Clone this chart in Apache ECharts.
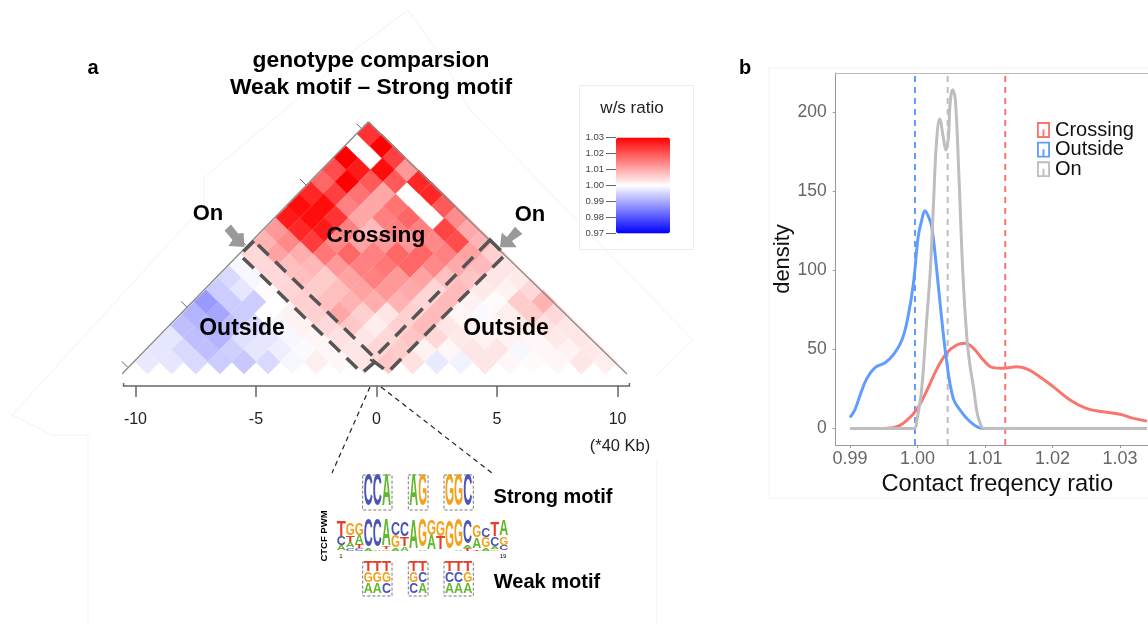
<!DOCTYPE html>
<html><head><meta charset="utf-8">
<style>html,body{margin:0;padding:0;background:#fff}#c{width:1148px;height:624px}</style>
<script src="https://cdn.jsdelivr.net/npm/echarts@6/dist/echarts.min.js"></script>
</head><body><div id="c"></div>
<script>
// ---------- panel a: contact ratio cells, one list per row from the apex downward
const heatRows = [
[1.024],
[null,1.03],
[1.03,null,1.0225],
[1.021,1.027,1.0285,1.012],
[1.018,1.03,1.0195,1.0195,1.0255],
[1.0255,1.0225,1.0165,1.0105,null,1.0255],
[1.0285,1.0285,1.015,1.0105,1.0165,null,1.0195],
[1.027,1.0285,1.024,1.0105,1.015,1.018,null,1.0135],
[1.012,1.0255,1.027,1.015,1.008,1.015,1.015,1.022,1.010],
[1.009,1.014,1.023,1.014,1.011,1.012,1.012,1.014,1.021,1.009],
[1.0045,1.011,1.0095,1.016,1.018,1.015,1.018,1.018,1.015,1.011,1.0055],
[0.999,1.0045,1.0075,1.0085,1.012,1.015,1.016,1.018,1.014,1.010,1.008,1.003],
[0.9955,0.999,1.0045,1.0075,1.006,1.011,1.015,1.012,1.011,1.0075,1.007,1.003,1.0025],
[0.994,0.997,1.0005,1.005,1.006,1.0075,1.011,1.012,1.010,1.005,1.008,1.0025,1.0015,1.0045],
[0.988,0.994,0.994,1.0,1.0055,1.0075,1.009,1.0095,1.009,1.005,1.008,1.0015,1.0005,1.006,1.009],
[0.991,0.9895,0.994,1.0,1.0015,1.0055,1.0105,1.0055,1.003,1.0055,1.008,1.001,0.9995,1.002,1.006,1.0045],
[0.9925,0.991,0.9925,0.9955,0.999,1.0015,1.0045,1.0065,1.002,1.0055,1.008,1.003,1.0015,1.001,1.0025,1.0035,1.003],
[0.997,0.9925,0.991,0.9965,0.997,0.999,1.001,1.0035,1.003,1.0045,1.007,1.0045,1.0025,1.0015,1.0015,1.001,1.0025,1.003],
[0.997,0.9955,0.9925,0.9945,0.997,0.998,0.9995,1.001,1.003,1.005,1.006,1.0015,1.001,1.003,1.003,0.999,1.001,1.0015,1.0025],
[0.9975,0.997,0.9955,0.994,0.9935,0.9955,0.999,1.002,1.001,1.003,1.0065,1.0035,0.9975,0.9985,1.003,1.001,1.0005,1.001,1.003,1.002]
];
const positionTicks = [-10,-5,0,5,10];
const ratioTicks = [0.97,0.98,0.99,1.00,1.01,1.02,1.03];
const triangleEdge = [[-10.56,0],[-0.35,21],[10.39,0]];
const edgeTickSpots = [[-10.44,0.8],[-7.98,5.8],[-5.55,11],[-3.05,16],[-0.7,20.6]];

// ---------- panel b: density curves
const crossing = [[0.99,0],[0.9949,0],[0.9969,1],[0.9984,5],[0.9999,12],[1.0014,24],[1.0028,37],[1.0043,47.5],[1.0058,52.7],[1.007,53.8],[1.0083,50.6],[1.0098,43],[1.0112,38.4],[1.0127,38],[1.0147,39],[1.0162,37.6],[1.0181,32.7],[1.0201,26.4],[1.0226,18],[1.025,12.7],[1.0275,10.5],[1.03,8.9],[1.032,6.3],[1.034,4.6]];
const outside = [[0.99,7],[0.9907,11.6],[0.9915,21],[0.9925,31.6],[0.9937,38.4],[0.9952,41.5],[0.9964,46.4],[0.9977,56],[0.9986,70.7],[0.9994,91.8],[1.0001,121],[1.0006,131],[1.0011,137.6],[1.0016,134],[1.0021,127.6],[1.0028,102],[1.0036,68.6],[1.0043,43],[1.0053,19],[1.0065,10.5],[1.0078,4.2],[1.009,0.6],[1.0098,0],[1.034,0]];
const onMotif = [[0.99,0],[0.9995,0],[0.9999,5],[1.0006,24],[1.0014,70.7],[1.0019,100],[1.0024,145],[1.0028,180],[1.0033,195.6],[1.0038,184.6],[1.0042,176],[1.0046,184.6],[1.0048,203.6],[1.0052,214],[1.0056,208],[1.0061,163.5],[1.0067,100],[1.0073,58],[1.0078,39],[1.0083,26],[1.0088,10.5],[1.0093,3],[1.0098,0],[1.034,0]];
const meanCrossing = 1.0130, meanOutside = 0.99963, meanOn = 1.00447;
const densityXTicks = [0.99,1.00,1.01,1.02,1.03];
const densityYTicks = [0,50,100,150,200];
const densityYMin = -10.5, densityYMax = 224.6;

// ---------- motif logo: stacks from top to bottom, letter + relative height
const consensus = [
[['T',.5],['C',.28],['A',.15]],[['G',.4],['T',.22],['A',.15],['C',.1]],[['G',.38],['A',.28],['T',.12],['C',.08]],
[['C',.9],['A',.06]],[['C',.92],['A',.05]],[['A',.85],['T',.06],['G',.05]],[['C',.42],['G',.38],['A',.08]],
[['C',.45],['T',.3],['A',.12]],[['A',.95]],[['G',.9],['A',.04]],[['G',.5],['A',.45]],[['G',.5],['T',.43]],
[['G',.9]],[['G',.9],['A',.05]],[['C',.75],['A',.1],['T',.08]],[['G',.38],['A',.35],['T',.05]],
[['C',.28],['G',.33],['A',.08]],[['T',.45],['C',.3],['A',.08],['G',.05]],[['A',.52],['G',.27],['C',.17]]
];
const strongGroups = ['CCA','AG','GGC'];
const weakGroups = [['TTT','GGG','AAC'],['TT','GC','CA'],['TTT','CCG','AAA']];
const letterColor = {A:'#62b82c',C:'#4a55b5',G:'#f4a11c',T:'#e6402a'};
const letterWidth = {A:.722,C:.722,G:.778,T:.611};

const FONT = '"Liberation Sans", Arial, sans-serif';
const heatData = [];
heatRows.forEach((row,t)=>row.forEach((v,m)=>{ if(v!==null) heatData.push([m,t,v]); }));

function renderCell(params, api){
  const m=api.value(0), t=api.value(1);
  const cx = m - t/2 - (19-t)/19*0.3, cy = 20 - t;
  const pts=[[cx,cy+1],[cx+.5,cy],[cx,cy-1],[cx-.5,cy]].map(p=>api.coord(p));
  const col=api.visual('color');
  return {type:'polygon',shape:{points:pts},style:{fill:col,stroke:col,lineWidth:0.6}};
}
function renderEdgeTick(params, api){
  const c=api.coord([api.value(0),api.value(1)]);
  return {type:'line',shape:{x1:c[0]-3,y1:c[1]-3,x2:c[0]+3,y2:c[1]+3},style:{stroke:'#666',lineWidth:1}};
}

// ---------- annotation helpers
const g=[];
function label(text,x,y,size,opts){ g.push(Object.assign({type:'text',x,y,z:20,rotation:(opts&&opts.rot)||0,
  style:{text,fontFamily:FONT,fontSize:size,fontWeight:(opts&&opts.w)||'bold',fill:(opts&&opts.c)||'#000',align:'center',verticalAlign:'middle'}})); }
function letter(ch,cx,bottom,w,h){
  const fs=20;
  g.push({type:'text',x:cx,y:bottom-h/2,z:15,scaleX:w/(letterWidth[ch]*fs),scaleY:h/(0.72*fs),
    style:{text:ch,fontFamily:FONT,fontSize:fs,fontWeight:'bold',fill:letterColor[ch],align:'center',verticalAlign:'middle'}});
}
function dashRect(x,y,w,h){ g.push({type:'rect',z:14,shape:{x,y,width:w,height:h},style:{fill:'none',stroke:'#777',lineWidth:1,lineDash:[3,2]}}); }
function faint(points){ g.push({type:'polyline',z:0,shape:{points},style:{fill:'none',stroke:'#f3f3f3',lineWidth:1}}); }

faint([[12,415],[52,435],[88,435],[88,624]]);
faint([[12,415],[204,205],[204,178],[355,50],[368,40],[408,10],[440,55],[470,110],[693,340],[657,375]]);
faint([[657,460],[657,624]]);
g.push({type:'rect',z:0,shape:{x:769,y:68,width:385,height:430},style:{fill:'none',stroke:'#f2f2f2',lineWidth:1}});
g.push({type:'rect',z:0,shape:{x:579.5,y:85.5,width:114,height:164},style:{fill:'none',stroke:'#ececec',lineWidth:1}});

label('a',93,68,20); label('b',745,68,20);
label('genotype comparsion',371,61,22.8); label('Weak motif \u2013 Strong motif',371,88,22.8);
label('w/s ratio',632,108,17,{w:'normal',c:'#222'});
label('On',208,214,22); label('On',530,215,22);
label('Crossing',376,236,22.8); label('Outside',242,329,23); label('Outside',506,329,23);
label('(*40 Kb)',620,446,16.5,{w:'normal',c:'#222'});
label('Strong motif',553,497,20); label('Weak motif',547,582,20);
label('CTCF PWM',324,536,9.5,{rot:Math.PI/2});
label('1',341,556,6,{w:'normal'}); label('19',503,556,6,{w:'normal'});

// arrows
g.push({type:'polygon',z:12,shape:{points:[[224.5,230.5],[231,224.5],[238,233.5],[243.5,233],[244.5,247],[228.5,246],[232.5,240]]},style:{fill:'#999'}});
g.push({type:'polygon',z:12,shape:{points:[[515,226.7],[522.3,234],[512,241],[516.7,247.3],[500,247.3],[501.7,232.7],[507,237]]},style:{fill:'#999'}});
// dashed On boxes
[[[254,241],[240,255],[362,373],[377,360]],[[490,240],[505,255],[388,372],[372,360]]].forEach(p=>
  g.push({type:'polygon',z:13,shape:{points:p},style:{fill:'none',stroke:'#555',lineWidth:3.5,lineDash:[15,9]}}));
// axis caps
[123.6,629.4].forEach(x=>g.push({type:'line',z:5,shape:{x1:x,y1:383,x2:x,y2:386},style:{stroke:'#666',lineWidth:1.5}}));
// zoom lines to the logo
g.push({type:'line',z:5,shape:{x1:370,y1:387,x2:332,y2:473},style:{stroke:'#222',lineWidth:1.2,lineDash:[5,4]}});
g.push({type:'line',z:5,shape:{x1:381,y1:387,x2:492,y2:473},style:{stroke:'#222',lineWidth:1.2,lineDash:[5,4]}});

// logo
const colW=9.03, colX0=336.7, baseY=551, fullH=31;
consensus.forEach((stack,k)=>{
  let y=baseY; const cx=colX0+colW*(k+.5);
  for(let i=stack.length-1;i>=0;i--){ const h=stack[i][1]*fullH; letter(stack[i][0],cx,y,colW,h); y-=h; }
});
const groupBoxes=[[362.7,29.3],[408.3,19.7],[444,29.3]];
groupBoxes.forEach((b,i)=>{
  dashRect(b[0],475,b[1],35); dashRect(b[0],562,b[1],34);
  const n=strongGroups[i].length, w=(b[1]-2)/n;
  [...strongGroups[i]].forEach((ch,j)=>letter(ch,b[0]+1+w*(j+.5),508.5,w,32));
  weakGroups[i].forEach((rowS,r)=>[...rowS].forEach((ch,j)=>{
    letter(ch,b[0]+1+w*(j+.5),[572.5,583.5,594.5][r],w,10);
  }));
});

const stem='path://M0 0H14V17H0ZM2 2V15H12V2ZM6 8H8V15H6Z';
const dashLine=(x,c)=>({type:'line',xAxisIndex:2,yAxisIndex:2,symbol:'none',silent:true,z:2,
  data:[[x,densityYMin],[x,densityYMax]],lineStyle:{color:c,width:2,type:[6,5]}});
const curve=(name,data,c,z)=>({name,type:'line',xAxisIndex:2,yAxisIndex:2,symbol:'none',smooth:0.4,z,data,
  itemStyle:{color:c},lineStyle:{color:c,width:3}});

const option={
  animation:false,backgroundColor:'#fff',textStyle:{fontFamily:FONT},
  grid:[
    {left:123.4,top:122,width:506.2,height:252},
    {left:616,top:137.5,width:54,height:96},
    {left:835.7,top:73,right:0,height:372}
  ],
  xAxis:[
    {gridIndex:0,type:'value',min:-10.5,max:10.5,offset:12,position:'bottom',splitLine:{show:false},
     axisLine:{onZero:false,lineStyle:{color:'#666',width:1.5}},
     axisTick:{customValues:positionTicks,length:11,lineStyle:{color:'#666',width:1.5}},
     axisLabel:{customValues:positionTicks,margin:26,fontSize:16,color:'#222',fontFamily:FONT,showMinLabel:true,showMaxLabel:true}},
    {gridIndex:1,type:'value',min:0,max:1,show:false},
    {gridIndex:2,type:'value',min:0.98788,max:1.03415,splitLine:{show:false},
     name:'Contact freqency ratio',nameLocation:'middle',nameGap:17,
     nameTextStyle:{fontSize:23.7,color:'#111',fontFamily:FONT,padding:[0,0,0,11]},
     axisLine:{onZero:false,lineStyle:{color:'#999',width:1}},
     axisTick:{customValues:densityXTicks,length:3,lineStyle:{color:'#999'}},
     axisLabel:{customValues:densityXTicks,margin:5,fontSize:18,color:'#666',fontFamily:FONT,formatter:v=>v.toFixed(2)}},
    {gridIndex:2,type:'value',min:0.98788,max:1.03415,position:'top',show:true,axisTick:{show:false},axisLabel:{show:false},splitLine:{show:false},axisLine:{onZero:false,lineStyle:{color:'#bbb',width:1}}}
  ],
  yAxis:[
    {gridIndex:0,type:'value',min:0,max:21,show:false},
    {gridIndex:1,type:'value',min:0.97,max:1.03,splitLine:{show:false},
     axisLine:{show:false},
     axisTick:{customValues:ratioTicks,length:10,lineStyle:{color:'#666'}},
     axisLabel:{customValues:ratioTicks,margin:12,fontSize:9.5,color:'#444',fontFamily:FONT,formatter:v=>v.toFixed(2)}},
    {gridIndex:2,type:'value',min:densityYMin,max:densityYMax,splitLine:{show:false},
     name:'density',nameLocation:'middle',nameGap:34,
     nameTextStyle:{fontSize:22,color:'#111',fontFamily:FONT},
     axisLine:{onZero:false,lineStyle:{color:'#999',width:1}},
     axisTick:{customValues:densityYTicks,length:3,lineStyle:{color:'#999'}},
     axisLabel:{customValues:densityYTicks,margin:9,fontSize:17.5,color:'#666',fontFamily:FONT}}
  ],
  visualMap:{type:'continuous',seriesIndex:0,dimension:2,min:0.97,max:1.03,left:601,top:122.5,itemWidth:54,itemHeight:96,
    calculable:false,hoverLink:false,text:null,inRange:{color:['#0000ff','#ffffff','#ff0000']}},
  legend:{data:['Crossing','Outside','On'],selectedMode:false,orient:'vertical',left:1037,top:120,icon:stem,
    itemWidth:13,itemHeight:16.5,itemGap:-0.4,padding:0,textStyle:{fontSize:20,lineHeight:16.5,color:'#111',fontFamily:FONT}},
  graphic:{elements:g},
  series:[
    {type:'custom',xAxisIndex:0,yAxisIndex:0,renderItem:renderCell,data:heatData,encode:{x:0,y:1},clip:false,silent:true,z:3},
    {type:'line',xAxisIndex:0,yAxisIndex:0,data:triangleEdge,symbol:'none',clip:false,silent:true,z:4,lineStyle:{color:'#888',width:1.2}},
    {type:'custom',xAxisIndex:0,yAxisIndex:0,renderItem:renderEdgeTick,data:edgeTickSpots,clip:false,silent:true,z:4},
    dashLine(meanOutside,'#619cff'),dashLine(meanOn,'#bebebe'),dashLine(meanCrossing,'#f8766d'),
    curve('Crossing',crossing,'#f8766d',5),
    curve('Outside',outside,'#619cff',6),
    curve('On',onMotif,'#bebebe',7)
  ]
};
echarts.init(document.getElementById('c'),null,{renderer:'canvas'}).setOption(option);
</script></body></html>
